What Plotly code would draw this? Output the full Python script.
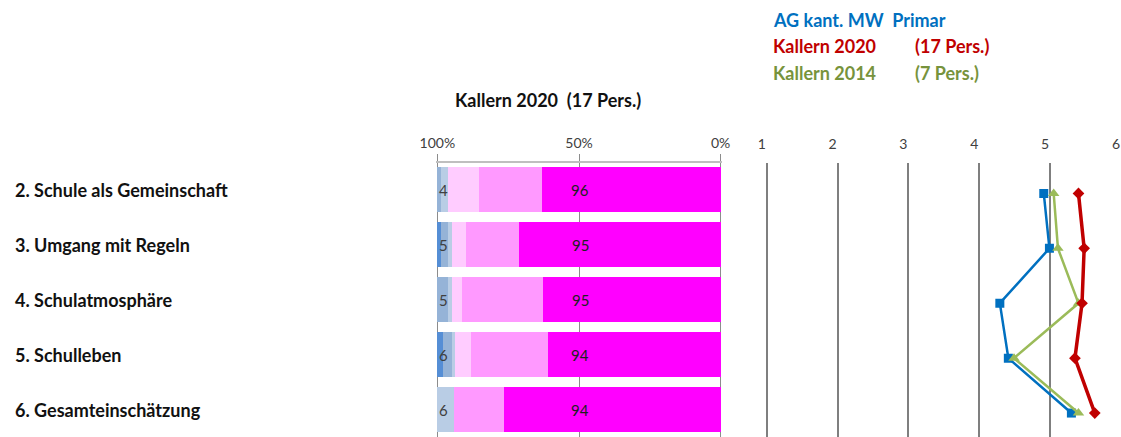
import plotly.graph_objects as go

# ---------------- data ----------------
categories = ["2. Schule als Gemeinschaft", "3. Umgang mit Regeln", "4. Schulatmosphäre",
              "5. Schulleben", "6. Gesamteinschätzung"]

# stacked shares in percent (from 0% at the right towards 100% at the left)
share_magenta = [63.1, 71.1, 62.6, 60.8, 76.4]
share_pink = [22.1, 18.8, 28.8, 27.2, 17.6]
share_lightpink = [11.1, 4.9, 3.4, 6.0, 0.0]
share_lightblue = [2.5, 1.5, 1.5, 0.7, 6.0]
share_midblue = [1.2, 2.5, 3.7, 3.4, 0.0]
share_darkblue = [0.0, 1.2, 0.0, 1.9, 0.0]

label_negative = ["4", "5", "5", "6", "6"]
label_positive = ["96", "95", "95", "94", "94"]

# mean values on the 1..6 scale
ag_kant_mw = [4.91, 4.99, 4.29, 4.41, 5.30]
kallern_2020 = [5.40, 5.48, 5.45, 5.35, 5.63]
kallern_2014 = [5.05, 5.11, 5.40, 4.49, 5.40]

pct_ticks = [100, 50, 0]
pct_ticklabels = ["100%", "50%", "0%"]
scale_ticks = [1, 2, 3, 4, 5, 6]

# ---------------- figure ----------------
W, H = 1121, 437
OFF = 0  # body margin removed by post_script below
FONT = "Lato"
ypos = list(range(len(categories)))


def xp(p):
    return (p - OFF) / W


def yp(p):
    return 1 - (p - OFF) / H


fig = go.Figure()

bar_series = [
    (share_magenta, "#FF00FF"),
    (share_pink, "#FF99FF"),
    (share_lightpink, "#FFCCFF"),
    (share_lightblue, "#B9CDE5"),
    (share_midblue, "#95B3D7"),
    (share_darkblue, "#558ED5"),
]
for vals, col in bar_series:
    fig.add_trace(go.Bar(
        x=vals, y=ypos, orientation="h", marker=dict(color=col, line=dict(width=0)),
        xaxis="x", yaxis="y", showlegend=False, hoverinfo="skip"))

line_series = [
    (ag_kant_mw, "#0070C0", "square", 9, 2.5),
    (kallern_2014, "#9BBB59", "triangle-up", 10, 2.5),
    (kallern_2020, "#C00000", "diamond", 9, 3.5),
]
for vals, col, sym, size, lw in line_series:
    fig.add_trace(go.Scatter(
        x=vals, y=ypos, mode="lines+markers", xaxis="x2", yaxis="y2",
        line=dict(color=col, width=lw), marker=dict(color=col, symbol=sym, size=size),
        showlegend=False, hoverinfo="skip"))

annotations = []
for i, cat in enumerate(categories):
    annotations.append(dict(text=f"<b>{cat}</b>", x=xp(13), y=i, xref="paper", yref="y",
                            xanchor="left", yanchor="middle", showarrow=False,
                            font=dict(family=FONT, size=18, color="#111111")))
    annotations.append(dict(text=label_negative[i], x=100, y=i, xref="x", yref="y",
                            xanchor="left", yanchor="middle", showarrow=False, xshift=0,
                            font=dict(family=FONT, size=15, color="#404040")))
    annotations.append(dict(text=label_positive[i], x=49.5, y=i, xref="x", yref="y",
                            xanchor="center", yanchor="middle", showarrow=False,
                            font=dict(family=FONT, size=15, color="#202020")))

annotations.append(dict(text="<b>Kallern 2020  (17 Pers.)</b>", x=xp(548), y=yp(100),
                        xref="paper", yref="paper", xanchor="center", yanchor="middle",
                        showarrow=False, font=dict(family=FONT, size=18, color="#111111")))

legend_rows = [
    ("AG kant. MW  Primar", "", "#0070C0", 20),
    ("Kallern 2020", "(17 Pers.)", "#C00000", 46),
    ("Kallern 2014", "(7 Pers.)", "#77933C", 73),
]
for name, extra, col, yy in legend_rows:
    annotations.append(dict(text=f"<b>{name}</b>", x=xp(771), y=yp(yy), xref="paper",
                            yref="paper", xanchor="left", yanchor="middle", showarrow=False,
                            font=dict(family=FONT, size=18, color=col)))
    if extra:
        annotations.append(dict(text=f"<b>{extra}</b>", x=xp(913), y=yp(yy), xref="paper",
                                yref="paper", xanchor="left", yanchor="middle", showarrow=False,
                                font=dict(family=FONT, size=18, color=col)))

y_dom = [max(0.0, yp(437.5)), yp(162.5)]
shift = 0.064

fig.update_layout(
    width=W, height=H, margin=dict(l=0, r=0, t=0, b=0, autoexpand=False),
    paper_bgcolor="white", plot_bgcolor="white",
    barmode="stack", bargap=0.18, hovermode=False,
    font=dict(family=FONT, size=14, color="#404040"),
    xaxis=dict(domain=[xp(436.2), xp(721.8)], range=[100.4, -0.4], side="top",
               tickvals=pct_ticks, ticktext=pct_ticklabels,
               showline=True, linecolor="#BFBFBF", linewidth=2,
               ticks="outside", ticklen=7, tickcolor="#8C8C8C", tickwidth=1,
               showgrid=True, gridcolor="#8C8C8C", gridwidth=1, zeroline=False,
               tickfont=dict(family=FONT, size=14, color="#404040"), fixedrange=True),
    yaxis=dict(domain=y_dom, range=[4.5, -0.5], showticklabels=False,
               showgrid=False, zeroline=False, showline=False, ticks=""),
    xaxis2=dict(domain=[xp(765.3), 1.0], range=[0.98, 6.0], side="top", anchor="y2",
                tickvals=scale_ticks, showline=False, ticks="outside", ticklen=7,
                tickcolor="rgba(0,0,0,0)", ticklabelshift=-5, ticklabeloverflow="allow",
                showgrid=True, gridcolor="#7F7F7F", gridwidth=2, zeroline=False,
                tickfont=dict(family=FONT, size=14, color="#404040")),
    yaxis2=dict(domain=y_dom, range=[4.5 - shift, -0.5 - shift], anchor="x2",
                showticklabels=False, showgrid=False, zeroline=False, showline=False),
    annotations=annotations,
)

fig.write_html("out.html", config={"displayModeBar": False},
               post_script="document.body.style.margin='0px';document.body.style.overflow='hidden';")
